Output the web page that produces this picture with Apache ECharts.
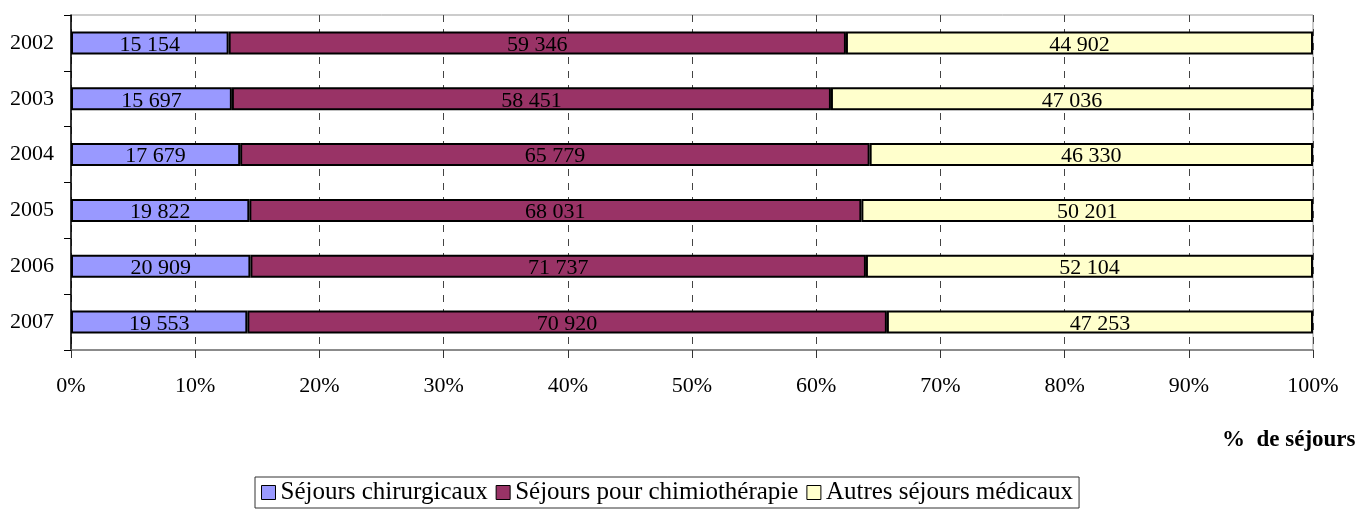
<!DOCTYPE html>
<html>
<head>
<meta charset="utf-8">
<script src="https://cdn.jsdelivr.net/npm/echarts@6/dist/echarts.min.js"></script>
<style>
  html, body { margin: 0; padding: 0; background: #fff; }
  #chart { width: 1372px; height: 512px; }
</style>
</head>
<body>
<div id="chart"></div>
<script>
const years = ["2002", "2003", "2004", "2005", "2006", "2007"];
const chirurgicaux = [15154, 15697, 17679, 19822, 20909, 19553];
const chimiotherapie = [59346, 58451, 65779, 68031, 71737, 70920];
const autresMedicaux = [44902, 47036, 46330, 50201, 52104, 47253];
const seriesNames = ["Séjours chirurgicaux", "Séjours pour chimiothérapie", "Autres séjours médicaux"];
const seriesColors = ["#9999ff", "#993366", "#ffffcc"];

const rawSeries = [chirurgicaux, chimiotherapie, autresMedicaux];
const totals = years.map((_, i) => rawSeries.reduce((s, arr) => s + arr[i], 0));

// 15154 -> "15 154"
const fmt = (v) => String(v).replace(/\B(?=(\d{3})+(?!\d))/g, " ");
const FONT = "'Liberation Serif', 'Times New Roman', serif";

const chart = echarts.init(document.getElementById("chart"));

chart.setOption({
  animation: false,
  textStyle: { fontFamily: FONT, color: "#000" },
  grid: {
    left: 71,
    right: 59,
    top: 15,
    bottom: 162,
    show: true,
    borderColor: "#999",
    borderWidth: 1,
  },
  legend: {
    left: 255,
    top: 477,
    itemWidth: 14,
    itemHeight: 14,
    itemGap: 8,
    padding: [3, 6, 3, 6],
    borderColor: "#333",
    borderWidth: 1,
    textStyle: { fontFamily: FONT, fontSize: 25, color: "#000" },
    data: seriesNames.map((name) => ({
      name,
      icon: "rect",
      itemStyle: { borderColor: "#000", borderWidth: 1 },
    })),
  },
  graphic: [
    {
      type: "text",
      left: 1222,
      top: 429,
      style: {
        text: "%  de séjours",
        font: "bold 23px " + FONT,
        fill: "#000",
      },
    },
  ],
  xAxis: {
    type: "value",
    min: 0,
    max: 100,
    interval: 10,
    axisLine: { show: true, lineStyle: { color: "#777", width: 1.5 } },
    axisTick: { show: true, length: 8, lineStyle: { color: "#333" } },
    axisLabel: {
      formatter: "{value}%",
      margin: 25,
      fontSize: 22,
      color: "#000",
      fontFamily: FONT,
    },
    splitLine: {
      show: true,
      lineStyle: { type: [7, 7], color: "#444", width: 1 },
    },
  },
  yAxis: {
    type: "category",
    inverse: true,
    data: years,
    axisLine: { show: true, lineStyle: { color: "#000", width: 1.5 } },
    axisTick: { show: true, length: 7, lineStyle: { color: "#000" } },
    axisLabel: { margin: 17, fontSize: 22, color: "#000", fontFamily: FONT },
  },
  series: rawSeries.map((arr, k) => ({
    name: seriesNames[k],
    type: "bar",
    stack: "total",
    barWidth: 23,
    data: arr.map((v, i) => ({ value: (v / totals[i]) * 100, raw: v })),
    itemStyle: { color: seriesColors[k], borderColor: "#000", borderWidth: 2 },
    label: {
      show: true,
      position: "inside",
      offset: [0, 2],
      fontSize: 22,
      fontFamily: FONT,
      color: "#000",
      formatter: (p) => fmt(p.data.raw),
    },
  })),
});
</script>
</body>
</html>
